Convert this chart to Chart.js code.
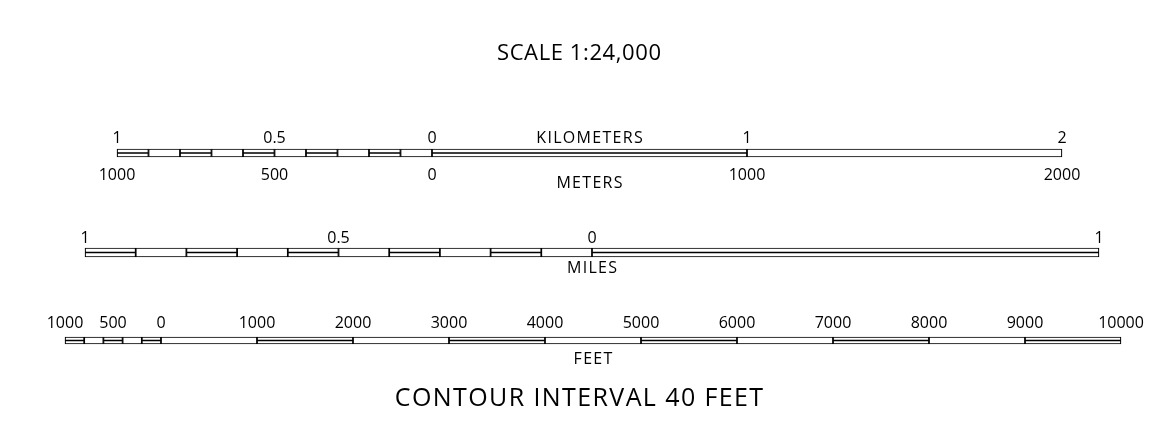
<!DOCTYPE html>
<html>
<head>
<meta charset="utf-8">
<title>Scale 1:24,000</title>
<script src="https://cdn.jsdelivr.net/npm/chart.js@4.4.1/dist/chart.umd.min.js"></script>
<style>
  html, body { margin: 0; padding: 0; background: #fff; }
  #wrap { width: 1158px; height: 445px; }
</style>
</head>
<body>
<div id="wrap"><canvas id="scaleChart" width="1158" height="445"></canvas></div>
<script>
// Map scale bar, 1:24,000 — kilometers / meters, miles, feet

// segment breaks per bar (left of 0 is shown as positive on the labels)
const kmBreaks = [-1, -0.9, -0.8, -0.7, -0.6, -0.5, -0.4, -0.3, -0.2, -0.1, 0, 1, 2];
const miBreaks = [-1, -0.9, -0.8, -0.7, -0.6, -0.5, -0.4, -0.3, -0.2, -0.1, 0, 1];
const ftBreaks = [-1000, -800, -600, -400, -200, 0, 1000, 2000, 3000, 4000, 5000, 6000, 7000, 8000, 9000, 10000];

// tick labels
const kmTicks = [-1, -0.5, 0, 1, 2];
const mTicks  = [-1, -0.5, 0, 1, 2];          // drawn on the km scale
const mLabels = ['1000', '500', '0', '1000', '2000'];
const miTicks = [-1, -0.5, 0, 1];
const ftTicks = [-1000, -500, 0, 1000, 2000, 3000, 4000, 5000, 6000, 7000, 8000, 9000, 10000];

const titleText   = 'SCALE 1:24,000';
const footerText  = 'CONTOUR INTERVAL 40 FEET';

// layout: where 0 sits and how many px per unit, bar row centre
const W = 1158, H = 445;
const rows = {
  km: { zero: 432, px: 315,   y: 153 },
  mi: { zero: 592, px: 507,   y: 252.5 },
  ft: { zero: 161, px: 0.096, y: 340.5 }
};
const FONT = '"Open Sans", "Noto Sans", sans-serif';

function axisRange(r) {
  return { min: -r.zero / r.px, max: (W - r.zero) / r.px };
}

function segments(breaks, y) {
  const out = [];
  for (let i = 0; i < breaks.length - 1; i++) out.push({ x: [breaks[i], breaks[i + 1]], y: y });
  return out;
}

// centre line for every other (the "black") segment
function midLines(breaks, y) {
  const out = [];
  for (let i = 0; i < breaks.length - 1; i += 2) {
    out.push({ x: breaks[i], y: y }, { x: breaks[i + 1], y: y }, { x: breaks[i + 1], y: null });
  }
  return out;
}

function barSet(key, breaks, thick) {
  return {
    type: 'bar',
    order: 2,
    data: segments(breaks, rows[key].y),
    xAxisID: key,
    yAxisID: 'y',
    backgroundColor: '#fff',
    borderColor: '#000',
    borderWidth: 1.2,
    borderSkipped: false,
    barThickness: thick,
    grouped: false
  };
}

function lineSet(key, breaks) {
  return {
    type: 'line',
    order: 1,
    indexAxis: 'x',
    data: midLines(breaks, rows[key].y),
    xAxisID: key,
    yAxisID: 'y',
    borderColor: '#000',
    borderWidth: 1.6,
    pointRadius: 0,
    spanGaps: false,
    fill: false
  };
}

// text labels placed through the scales
const labelPlugin = {
  id: 'scaleLabels',
  afterDraw(chart) {
    const c = chart.ctx;
    const s = chart.scales;
    c.save();
    c.fillStyle = '#000';
    c.textAlign = 'center';
    c.textBaseline = 'alphabetic';

    function put(scale, vals, labels, base) {
      vals.forEach((v, i) => {
        const txt = labels ? labels[i] : String(Math.abs(v));
        c.fillText(txt, s[scale].getPixelForValue(v), base);
      });
    }
    function mid(scale, breaks) {
      return (s[scale].getPixelForValue(breaks[0]) + s[scale].getPixelForValue(breaks[breaks.length - 1])) / 2;
    }
    function spaced(txt, x, y, sp) {
      c.letterSpacing = sp + 'px';
      c.fillText(txt, x + sp / 2, y);
      c.letterSpacing = '0px';
    }

    c.font = '500 16px ' + FONT;
    put('km', kmTicks, null, 143);
    put('km', mTicks, mLabels, 180);
    put('mi', miTicks, null, 243);
    put('ft', ftTicks, null, 328);

    spaced('KILOMETERS', mid('km', kmBreaks), 143, 1.3);
    spaced('METERS', mid('km', kmBreaks), 188, 1.3);
    spaced('MILES', mid('mi', miBreaks), 273, 1.3);
    spaced('FEET', mid('ft', ftBreaks), 364, 1.3);

    c.font = '500 22px ' + FONT;
    spaced(titleText, W / 2, 60, 0.6);
    c.font = '500 25px ' + FONT;
    spaced(footerText, W / 2, 406, 1.4);
    c.restore();
  }
};

const kmR = axisRange(rows.km), miR = axisRange(rows.mi), ftR = axisRange(rows.ft);

new Chart(document.getElementById('scaleChart').getContext('2d'), {
  data: {
    datasets: [
      barSet('km', kmBreaks, 8),
      barSet('mi', miBreaks, 9),
      barSet('ft', ftBreaks, 7),
      lineSet('km', kmBreaks),
      lineSet('mi', miBreaks),
      lineSet('ft', ftBreaks)
    ]
  },
  options: {
    indexAxis: 'y',
    responsive: false,
    animation: false,
    layout: { padding: 0 },
    plugins: { legend: { display: false }, tooltip: { enabled: false } },
    scales: {
      km: { type: 'linear', axis: 'x', min: kmR.min, max: kmR.max, offset: false, display: false },
      mi: { type: 'linear', axis: 'x', min: miR.min, max: miR.max, offset: false, display: false },
      ft: { type: 'linear', axis: 'x', min: ftR.min, max: ftR.max, offset: false, display: false },
      y:  { type: 'linear', axis: 'y', min: 0, max: H, reverse: true, offset: false, display: false }
    }
  },
  plugins: [labelPlugin]
});
</script>
</body>
</html>
